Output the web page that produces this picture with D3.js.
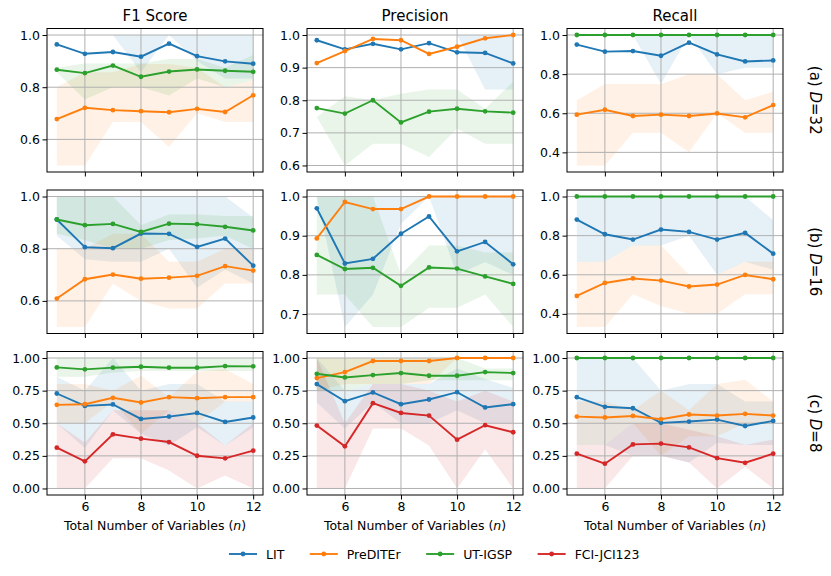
<!DOCTYPE html>
<html>
<head>
<meta charset="utf-8">
<script src="https://cdn.jsdelivr.net/npm/d3@7/dist/d3.min.js"></script>
<style>
  body{ margin:0; padding:0; background:#fff; }
  svg{ display:block; }
  text{ font-family:"DejaVu Sans", sans-serif; fill:#000; }
</style>
</head>
<body>
<svg id="svg" width="831" height="576"></svg>
<script>
// x values (total number of variables)
const nVars = [5, 6, 7, 8, 9, 10, 11, 12];
const methods = ['LIT', 'PreDITEr', 'UT-IGSP', 'FCI-JCI123'];
const colors = ['#1f77b4', '#ff7f0e', '#2ca02c', '#d62728'];
const metricNames = ['F1 Score', 'Precision', 'Recall'];
const rowTags = ['(a) ', '(b) ', '(c) '];
const dValues = [32, 16, 8];
const xTicks = [6, 8, 10, 12];

// ---- D=32 (rows: LIT, PreDITEr, UT-IGSP) ----
const f1_32_mean = [
  [0.964, 0.928, 0.935, 0.917, 0.967, 0.919, 0.899, 0.890],
  [0.678, 0.721, 0.712, 0.708, 0.704, 0.717, 0.705, 0.769],
  [0.867, 0.854, 0.883, 0.840, 0.860, 0.868, 0.863, 0.859]];
const f1_32_lo = [
  [1, 1, 1, 0.857, 1, 0.9, 0.833, 0.833],
  [0.5, 0.5, 0.667, 0.667, 0.571, 0.7, 0.667, 0.667],
  [0.857, 0.753, 0.8, 0.8, 0.768, 0.833, 0.8, 0.827]];
const f1_32_hi = [
  [1, 1, 1, 1, 1, 1, 1, 1],
  [0.8, 0.857, 0.857, 0.889, 0.889, 0.875, 0.8, 0.827],
  [0.875, 0.891, 0.891, 0.891, 0.908, 0.908, 0.875, 0.923]];

const pr_32_mean = [
  [0.984, 0.956, 0.973, 0.956, 0.975, 0.947, 0.945, 0.913],
  [0.914, 0.951, 0.988, 0.984, 0.942, 0.964, 0.990, 1.0],
  [0.776, 0.759, 0.800, 0.732, 0.765, 0.774, 0.766, 0.762]];
const pr_32_lo = [
  [1, 1, 1, 1, 1, 1, 0.833, 0.833],
  [1, 1, 1, 1, 1, 1, 1, 1],
  [0.749, 0.6, 0.667, 0.667, 0.626, 0.713, 0.667, 0.667]];
const pr_32_hi = [
  [1, 1, 1, 1, 1, 1, 1, 1],
  [1, 1, 1, 1, 1, 1, 1, 1],
  [0.749, 0.812, 0.8, 0.82, 0.833, 0.833, 0.774, 0.857]];

const re_32_mean = [
  [0.951, 0.915, 0.918, 0.894, 0.961, 0.901, 0.865, 0.870],
  [0.593, 0.618, 0.586, 0.593, 0.586, 0.599, 0.579, 0.642],
  [1, 1, 1, 1, 1, 1, 1, 1]];
const re_32_lo = [
  [1, 1, 1, 0.75, 1, 0.8, 0.833, 0.833],
  [0.333, 0.333, 0.5, 0.5, 0.4, 0.6, 0.5, 0.5],
  [1, 1, 1, 1, 1, 1, 1, 1]];
const re_32_hi = [
  [1, 1, 1, 1, 1, 1, 1, 1],
  [0.667, 0.75, 0.75, 0.75, 0.8, 0.8, 0.667, 0.71],
  [1, 1, 1, 1, 1, 1, 1, 1]];

// ---- D=16 ----
const f1_16_mean = [
  [0.912, 0.806, 0.802, 0.858, 0.857, 0.807, 0.839, 0.735],
  [0.609, 0.683, 0.701, 0.685, 0.689, 0.696, 0.733, 0.716],
  [0.912, 0.890, 0.895, 0.864, 0.896, 0.894, 0.884, 0.870]];
const f1_16_lo = [
  [0.85, 0.76, 0.75, 0.75, 0.8, 0.65, 0.72, 0.667],
  [0.5, 0.5, 0.667, 0.6, 0.571, 0.571, 0.667, 0.667],
  [0.857, 0.833, 0.8, 0.8, 0.833, 0.84, 0.85, 0.8]];
const f1_16_hi = [
  [1, 1, 1, 1, 1, 1, 1, 0.92],
  [0.8, 0.8, 0.857, 0.857, 0.75, 0.75, 0.8, 0.8],
  [1, 1, 1, 0.89, 0.931, 0.931, 0.925, 0.925]];

const pr_16_mean = [
  [0.970, 0.829, 0.841, 0.905, 0.949, 0.860, 0.884, 0.827],
  [0.893, 0.986, 0.968, 0.968, 1, 1, 1, 1],
  [0.851, 0.815, 0.818, 0.772, 0.819, 0.816, 0.796, 0.777]];
const pr_16_lo = [
  [1, 0.667, 0.75, 0.93, 1, 0.8, 0.833, 0.8],
  [1, 1, 1, 1, 1, 1, 1, 1],
  [0.75, 0.75, 0.667, 0.667, 0.716, 0.716, 0.75, 0.667]];
const pr_16_hi = [
  [1, 1, 1, 1, 1, 1, 1, 1],
  [1, 1, 1, 1, 1, 1, 1, 1],
  [1, 1, 1, 0.8, 0.875, 0.875, 0.857, 0.857]];

const re_16_mean = [
  [0.882, 0.807, 0.780, 0.831, 0.819, 0.780, 0.814, 0.708],
  [0.492, 0.558, 0.581, 0.570, 0.540, 0.550, 0.599, 0.577],
  [1, 1, 1, 1, 1, 1, 1, 1]];
const re_16_lo = [
  [0.667, 0.667, 0.75, 0.75, 0.8, 0.6, 0.667, 0.625],
  [0.333, 0.333, 0.5, 0.44, 0.4, 0.4, 0.5, 0.5],
  [1, 1, 1, 1, 1, 1, 1, 1]];
const re_16_hi = [
  [1, 1, 1, 1, 1, 1, 1, 0.879],
  [0.667, 0.667, 0.75, 0.75, 0.6, 0.6, 0.667, 0.667],
  [1, 1, 1, 1, 1, 1, 1, 1]];

// ---- D=8 (rows: LIT, PreDITEr, UT-IGSP, FCI-JCI123) ----
const f1_8_mean = [
  [0.728, 0.633, 0.644, 0.533, 0.551, 0.579, 0.510, 0.544],
  [0.641, 0.646, 0.695, 0.659, 0.700, 0.692, 0.700, 0.700],
  [0.928, 0.913, 0.926, 0.933, 0.926, 0.926, 0.938, 0.936],
  [0.313, 0.208, 0.415, 0.382, 0.356, 0.251, 0.231, 0.290]];
const f1_8_lo = [
  [0.5, 0.31, 0.6, 0.42, 0.33, 0.47, 0.33, 0.47],
  [0.5, 0.5, 0.667, 0.42, 0.6, 0.5, 0.667, 0.667],
  [0.857, 0.857, 0.889, 0.9, 0.9, 0.9, 0.9, 0.9],
  [0, 0, 0.231, 0.231, 0.138, 0, 0.1, 0]];
const f1_8_hi = [
  [0.857, 0.75, 1, 0.75, 0.8, 0.8, 0.667, 0.667],
  [0.8, 0.8, 0.75, 0.864, 0.7, 0.895, 0.913, 0.8],
  [1, 1, 1, 1, 1, 1, 1, 1],
  [0.5, 0.35, 0.6, 0.6, 0.6, 0.5, 0.33, 0.5]];

const pr_8_mean = [
  [0.800, 0.669, 0.736, 0.646, 0.682, 0.738, 0.621, 0.646],
  [0.846, 0.892, 0.977, 0.977, 0.977, 1, 1, 1],
  [0.879, 0.851, 0.869, 0.885, 0.864, 0.864, 0.892, 0.885],
  [0.482, 0.323, 0.654, 0.579, 0.559, 0.374, 0.485, 0.431]];
const pr_8_lo = [
  [0.66, 0.46, 0.66, 0.5, 0.5, 0.6, 0.5, 0.5],
  [0.75, 0.8, 0.8, 0.8, 0.8, 1, 1, 1],
  [0.75, 0.75, 0.8, 0.8, 0.83, 0.83, 0.83, 0.83],
  [0, 0, 0.46, 0.46, 0.33, 0, 0.3, 0]];
const pr_8_hi = [
  [1, 0.75, 0.8, 0.8, 0.8, 0.92, 0.84, 0.77],
  [1, 1, 1, 1, 1, 1, 1, 1],
  [1, 1, 1, 1, 1, 1, 0.92, 0.92],
  [1, 0.5, 0.8, 0.8, 0.75, 0.667, 0.75, 0.667]];

const re_8_mean = [
  [0.700, 0.626, 0.615, 0.503, 0.513, 0.528, 0.479, 0.518],
  [0.551, 0.544, 0.556, 0.531, 0.567, 0.559, 0.572, 0.559],
  [1, 1, 1, 1, 1, 1, 1, 1],
  [0.267, 0.190, 0.338, 0.344, 0.315, 0.233, 0.197, 0.267]];
const re_8_lo = [
  [0.333, 0.333, 0.25, 0.25, 0.2, 0.35, 0.333, 0.333],
  [0.333, 0.333, 0.5, 0.25, 0.4, 0.4, 0.5, 0.5],
  [1, 1, 1, 1, 1, 1, 1, 1],
  [0, 0, 0.25, 0.25, 0.2, 0, 0.167, 0]];
const re_8_hi = [
  [1, 1, 1, 0.75, 0.8, 0.8, 0.667, 0.667],
  [0.667, 0.667, 0.6, 0.75, 0.6, 0.8, 0.833, 0.667],
  [1, 1, 1, 1, 1, 1, 1, 1],
  [0.333, 0.333, 0.5, 0.5, 0.45, 0.4, 0.333, 0.375]];

// y tick values per panel
const yTicks = [
  [[0.6, 0.8, 1.0], [0.6, 0.7, 0.8, 0.9, 1.0], [0.4, 0.6, 0.8, 1.0]],
  [[0.6, 0.8, 1.0], [0.7, 0.8, 0.9, 1.0], [0.4, 0.6, 0.8, 1.0]],
  [[0, 0.25, 0.5, 0.75, 1.0], [0, 0.25, 0.5, 0.75, 1.0], [0, 0.25, 0.5, 0.75, 1.0]]
];

const panelData = [
  [[f1_32_mean, f1_32_lo, f1_32_hi], [pr_32_mean, pr_32_lo, pr_32_hi], [re_32_mean, re_32_lo, re_32_hi]],
  [[f1_16_mean, f1_16_lo, f1_16_hi], [pr_16_mean, pr_16_lo, pr_16_hi], [re_16_mean, re_16_lo, re_16_hi]],
  [[f1_8_mean, f1_8_lo, f1_8_hi], [pr_8_mean, pr_8_lo, pr_8_hi], [re_8_mean, re_8_lo, re_8_hi]]
];

// layout
const colLeft = [47, 307, 567];
const rowTop = [28.5, 190, 351.5];
const pw = 216, ph = 143.5;
const fontSize = 12.5;

const svg = d3.select('#svg');

panelData.forEach(function(row, r){
  row.forEach(function(cell, c){
    const [mean, lo, hi] = cell;
    const left = colLeft[c], top = rowTop[r];

    const x = d3.scaleLinear().domain([4.65, 12.35]).range([0, pw]);
    const all = [].concat(...mean, ...lo, ...hi);
    const mn = d3.min(all), mx = d3.max(all), pad = (mx - mn) * 0.05;
    const y = d3.scaleLinear().domain([mn - pad, mx + pad]).range([ph, 0]);

    const g = svg.append('g').attr('transform', 'translate(' + left + ',' + top + ')');
    const clipId = 'clip' + r + c;
    g.append('clipPath').attr('id', clipId)
      .append('rect').attr('width', pw).attr('height', ph);

    const plot = g.append('g').attr('clip-path', 'url(#' + clipId + ')');

    // bands
    const area = d3.area()
      .x(function(d){ return x(d.n); })
      .y0(function(d){ return y(d.lo); })
      .y1(function(d){ return y(d.hi); });
    mean.forEach(function(m, k){
      const pts = nVars.map(function(n, i){ return {n: n, lo: lo[k][i], hi: hi[k][i]}; });
      plot.append('path')
        .attr('d', area(pts))
        .style('fill', colors[k])
        .style('fill-opacity', 0.11)
        .style('stroke', 'none');
    });

    // grid
    plot.selectAll('.vgrid').data(xTicks).enter().append('line')
      .attr('x1', function(d){ return x(d); }).attr('x2', function(d){ return x(d); })
      .attr('y1', 0).attr('y2', ph)
      .style('stroke', '#b0b0b0').style('stroke-width', 1);
    plot.selectAll('.hgrid').data(yTicks[r][c]).enter().append('line')
      .attr('x1', 0).attr('x2', pw)
      .attr('y1', function(d){ return y(d); }).attr('y2', function(d){ return y(d); })
      .style('stroke', '#b0b0b0').style('stroke-width', 1);

    // mean lines
    const line = d3.line()
      .x(function(d, i){ return x(nVars[i]); })
      .y(function(d){ return y(d); });
    mean.forEach(function(m, k){
      plot.append('path')
        .attr('d', line(m))
        .style('fill', 'none')
        .style('stroke', colors[k])
        .style('stroke-width', 1.9);
      plot.selectAll('.dot' + k).data(m).enter().append('circle')
        .attr('cx', function(d, i){ return x(nVars[i]); })
        .attr('cy', function(d){ return y(d); })
        .attr('r', 2.4)
        .style('fill', colors[k]);
    });

    // axes
    const fmt = r === 2 ? d3.format('.2f') : d3.format('.1f');
    const yAxis = g.append('g')
      .call(d3.axisLeft(y).tickValues(yTicks[r][c]).tickFormat(fmt).tickSize(4.5).tickPadding(2.5));
    const xAxis = g.append('g').attr('transform', 'translate(0,' + ph + ')')
      .call(d3.axisBottom(x).tickValues(xTicks)
        .tickFormat(r === 2 ? d3.format('d') : function(){ return ''; })
        .tickSize(4.5).tickPadding(3));
    [yAxis, xAxis].forEach(function(a){
      a.select('.domain').remove();
      a.selectAll('line').style('stroke', '#000').style('stroke-width', 1);
      a.selectAll('text').style('font-family', '"DejaVu Sans", sans-serif')
        .style('font-size', fontSize + 'px').style('fill', '#000');
    });

    // frame
    g.append('rect').attr('width', pw).attr('height', ph)
      .style('fill', 'none').style('stroke', '#000').style('stroke-width', 1);

    if (r === 0) {
      g.append('text').attr('x', pw / 2).attr('y', -7.5)
        .attr('text-anchor', 'middle').style('font-size', '15px')
        .text(metricNames[c]);
    }
    if (r === 2) {
      const xl = g.append('text').attr('x', pw / 2).attr('y', ph + 35)
        .attr('text-anchor', 'middle').style('font-size', fontSize + 'px');
      xl.append('tspan').text('Total Number of Variables (');
      xl.append('tspan').style('font-style', 'italic').text('n');
      xl.append('tspan').text(')');
    }
    if (c === 2) {
      const rl = g.append('text')
        .attr('transform', 'translate(' + (pw + 32) + ',' + (ph / 2) + ') rotate(90)')
        .attr('text-anchor', 'middle')
        .attr('dominant-baseline', 'central')
        .style('font-size', '15px');
      rl.append('tspan').text(rowTags[r]);
      rl.append('tspan').style('font-style', 'italic').text('D');
      rl.append('tspan').text('=' + dValues[r]);
    }
  });
});

// legend
const legend = svg.append('g').attr('transform', 'translate(0,554)');
let lx = 229;
methods.forEach(function(name, k){
  legend.append('line').attr('x1', lx).attr('x2', lx + 28).attr('y1', 0).attr('y2', 0)
    .style('stroke', colors[k]).style('stroke-width', 1.9);
  legend.append('circle').attr('cx', lx + 14).attr('cy', 0).attr('r', 2.4).style('fill', colors[k]);
  const t = legend.append('text').attr('x', lx + 37).attr('y', 0)
    .attr('dominant-baseline', 'central').style('font-size', fontSize + 'px').text(name);
  lx += 37 + t.node().getComputedTextLength() + 25.5;
});
</script>
</body>
</html>
